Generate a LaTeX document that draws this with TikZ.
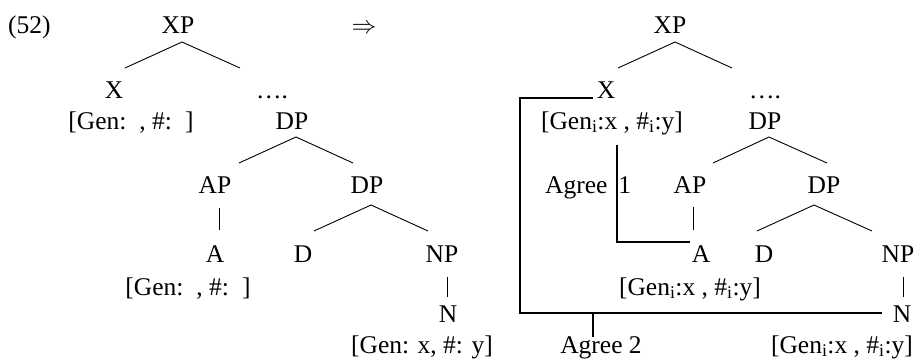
\documentclass[tikz,border=0pt]{standalone}
\usepackage{fontspec}
\setmainfont{Liberation Serif}
\begin{document}
\begin{tikzpicture}[x=1pt,y=-1pt,
  every node/.style={inner sep=0pt, font=\fontsize{25.5}{30}\selectfont},
  lab/.style={anchor=base},
  tree/.style={line width=0.9pt},
  bar/.style={line width=0.8pt},
  agr/.style={line width=2pt}]
\useasboundingbox (0,0) rectangle (916,360);
% heading
\node[anchor=base west] (ex) at (8,33) {(52)};
\node[lab] (arr) at (364,33) {$\Rightarrow$};
% ---------- left tree ----------
\node[lab] (xpL) at (178,33) {XP};
\node[lab] (xL) at (114,98) {X};
\node[lab] (fxL) at (131,129) {[Gen:\hspace{13pt}, \#:\hspace{13pt}]};
\node[lab] (dotsL) at (272,98) {….};
\node[lab] (dpLa) at (292,129) {DP};
\node[lab] (apL) at (215,193) {AP};
\node[lab] (dpLb) at (367,193) {DP};
\node[lab] (aL) at (215,262) {A};
\node[lab] (dL) at (303,262) {D};
\node[lab] (npL) at (442,262) {NP};
\node[lab] (faL) at (188,295) {[Gen:\hspace{13pt}, \#:\hspace{13pt}]};
\node[lab] (nL) at (448,322) {N};
\node[lab] (fnL) at (422,353) {[Gen: x, \#: y]};
\coordinate (c1) at (182,42); \coordinate (c1l) at (125,68); \coordinate (c1r) at (240,68);
\coordinate (c2) at (296,137); \coordinate (c2l) at (239,163); \coordinate (c2r) at (353,163);
\coordinate (c3) at (219,208); \coordinate (c3b) at (219,230);
\coordinate (c4) at (371,205); \coordinate (c4l) at (314,231); \coordinate (c4r) at (428,231);
\coordinate (c5) at (447,277); \coordinate (c5b) at (447,297);
\draw[tree] (c1l) -- (c1) -- (c1r);
\draw[tree] (c2l) -- (c2) -- (c2r);
\draw[bar] (c3) -- (c3b);
\draw[tree] (c4l) -- (c4) -- (c4r);
\draw[bar] (c5) -- (c5b);
% ---------- right tree ----------
\node[lab] (xpR) at (670,33) {XP};
\node[lab] (xR) at (606,98) {X};
\node[lab] (fxR) at (612,129) {[Gen\textsubscript{i}:x , \#\textsubscript{i}:y]};
\node[lab] (dotsR) at (765,98) {….};
\node[lab] (dpRa) at (765,129) {DP};
\node[anchor=base west] (ag1) at (545,193) {Agree\hspace{11pt}1};
\node[lab] (apR) at (690,193) {AP};
\node[lab] (dpRb) at (824,193) {DP};
\node[lab] (aR) at (701,262) {A};
\node[lab] (dR) at (764,262) {D};
\node[lab] (npR) at (898,262) {NP};
\node[lab] (faR) at (690,295) {[Gen\textsubscript{i}:x , \#\textsubscript{i}:y]};
\node[lab] (nR) at (902,322) {N};
\node[lab] (fnR) at (842,353) {[Gen\textsubscript{i}:x , \#\textsubscript{i}:y]};
\node[lab] (ag2) at (601,353) {Agree 2};
\coordinate (d1) at (675,42); \coordinate (d1l) at (618,68); \coordinate (d1r) at (732,68);
\coordinate (d2) at (769,137); \coordinate (d2l) at (713,163); \coordinate (d2r) at (827,163);
\coordinate (d3) at (693,207); \coordinate (d3b) at (693,230);
\coordinate (d4) at (814,205); \coordinate (d4l) at (757,231); \coordinate (d4r) at (872,231);
\coordinate (d5) at (903,277); \coordinate (d5b) at (903,297);
\draw[tree] (d1l) -- (d1) -- (d1r);
\draw[tree] (d2l) -- (d2) -- (d2r);
\draw[bar] (d3) -- (d3b);
\draw[tree] (d4l) -- (d4) -- (d4r);
\draw[bar] (d5) -- (d5b);
% Agree 1
\coordinate (g1s) at (617,145); \coordinate (g1c) at (617,242); \coordinate (g1e) at (690,242);
\draw[agr] (g1s) -- (g1c) -- (g1e);
% Agree 2
\coordinate (g2s) at (593,98); \coordinate (g2a) at (520,98); \coordinate (g2b) at (520,313);
\coordinate (g2e) at (882,313); \coordinate (g2m) at (593,313); \coordinate (g2t) at (593,337);
\draw[agr] (g2s) -- (g2a) -- (g2b) -- (g2e);
\draw[agr] (g2m) -- (g2t);
\end{tikzpicture}
\end{document}
